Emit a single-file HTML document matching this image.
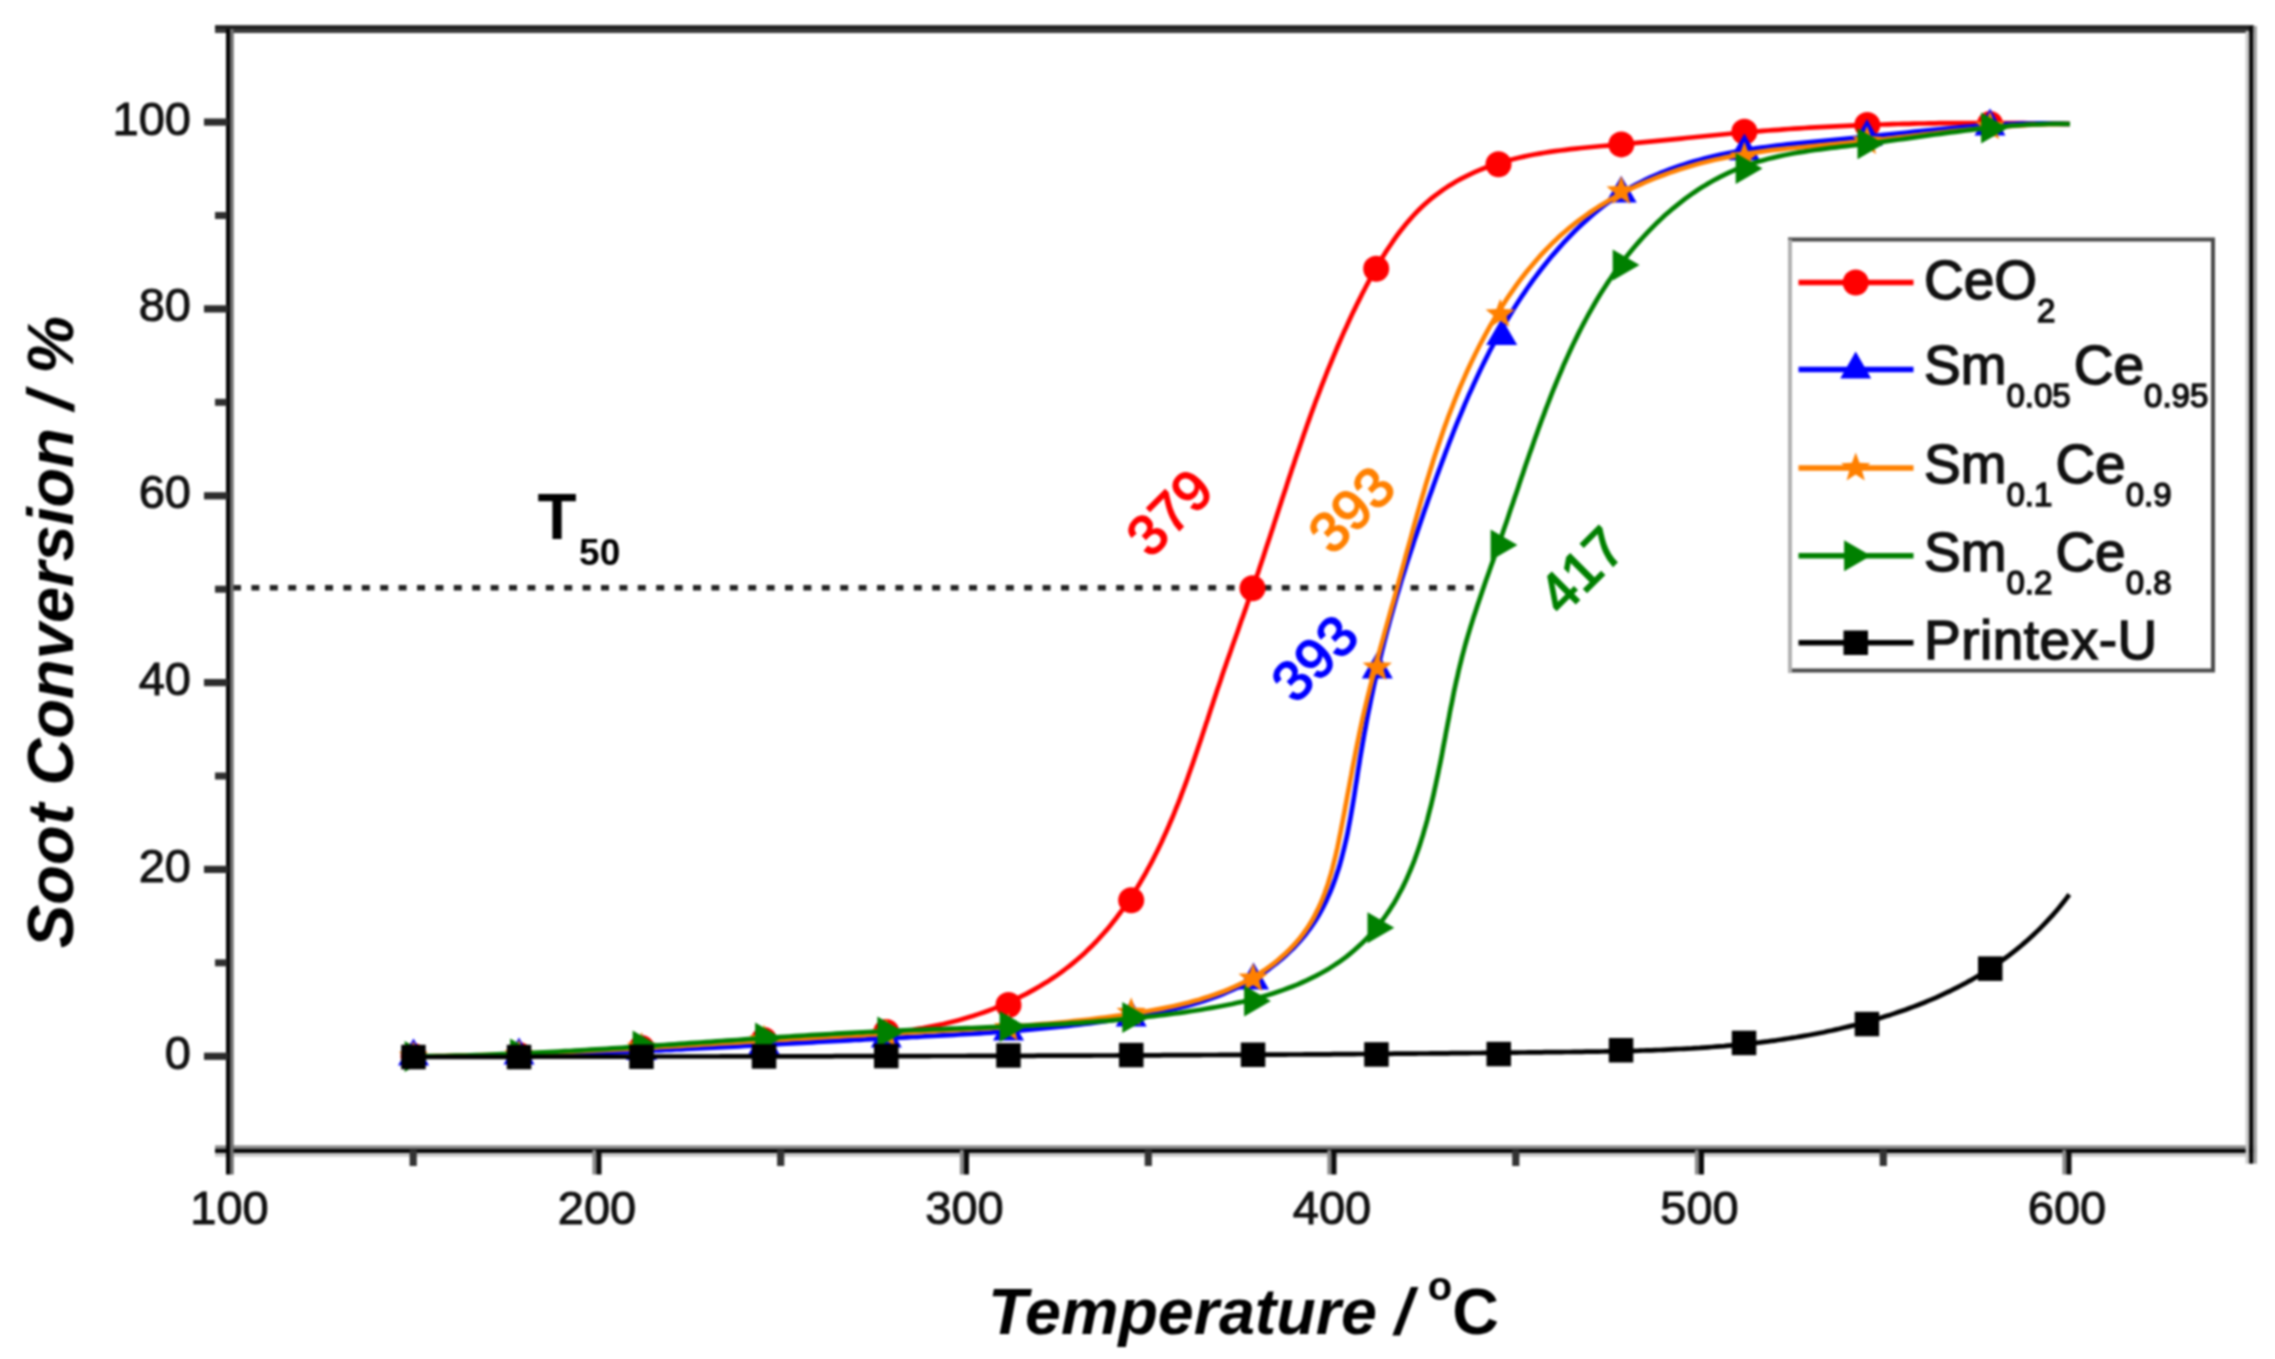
<!DOCTYPE html>
<html lang="en"><head><meta charset="utf-8"><title>Soot Conversion vs Temperature</title>
<style>html,body{margin:0;padding:0;background:#fff}body{width:2275px;height:1359px;overflow:hidden}svg{display:block}</style>
</head><body>
<svg width="2275" height="1359" viewBox="0 0 2275 1359">
<rect width="2275" height="1359" fill="#fff"/>
<defs><filter id="soft" x="0" y="0" width="100%" height="100%" filterUnits="userSpaceOnUse" color-interpolation-filters="sRGB"><feGaussianBlur stdDeviation="0.9"/></filter></defs>
<g filter="url(#soft)">
<rect width="2275" height="1359" fill="#fff"/>
<line x1="233" y1="587.8" x2="1479" y2="587.8" stroke="#222" stroke-width="5.5" stroke-dasharray="8 10.4"/>
<path d="M413.5,1056.0 L418.8,1056.2 L424.0,1056.3 L429.3,1056.5 L434.5,1056.6 L439.7,1056.6 L445.0,1056.7 L450.2,1056.7 L455.4,1056.7 L460.7,1056.7 L465.9,1056.7 L471.1,1056.6 L476.3,1056.6 L481.5,1056.5 L486.7,1056.4 L491.9,1056.2 L497.1,1056.1 L502.3,1055.9 L507.5,1055.8 L512.7,1055.6 L517.9,1055.4 L523.1,1055.1 L528.3,1054.9 L533.4,1054.7 L538.6,1054.4 L543.8,1054.1 L549.0,1053.8 L554.2,1053.6 L559.3,1053.2 L564.5,1052.9 L569.7,1052.6 L574.8,1052.3 L580.0,1051.9 L585.2,1051.6 L590.4,1051.3 L595.5,1050.9 L600.7,1050.5 L605.9,1050.2 L611.0,1049.8 L616.2,1049.4 L621.4,1049.0 L626.5,1048.7 L631.7,1048.3 L636.9,1047.9 L642.0,1047.5 L647.2,1047.1 L652.4,1046.7 L657.6,1046.4 L662.7,1046.0 L667.9,1045.6 L673.1,1045.2 L678.3,1044.8 L683.5,1044.5 L688.7,1044.1 L693.8,1043.8 L699.0,1043.4 L704.2,1043.1 L709.4,1042.7 L714.6,1042.4 L719.8,1042.1 L725.0,1041.7 L730.2,1041.4 L735.4,1041.1 L740.6,1040.9 L745.9,1040.6 L751.1,1040.3 L756.3,1040.1 L761.5,1039.8 L766.8,1039.6 L772.0,1039.4 L777.2,1039.2 L782.5,1039.0 L787.7,1038.8 L793.0,1038.6 L798.2,1038.4 L803.5,1038.2 L808.7,1038.1 L814.0,1037.9 L819.2,1037.7 L824.4,1037.4 L829.7,1037.2 L834.9,1037.0 L840.2,1036.7 L845.4,1036.4 L850.6,1036.1 L855.9,1035.8 L861.1,1035.4 L866.3,1035.0 L871.5,1034.6 L876.7,1034.1 L881.9,1033.6 L887.1,1033.1 L892.3,1032.5 L897.4,1031.9 L902.6,1031.2 L907.7,1030.5 L912.9,1029.8 L918.0,1028.9 L923.1,1028.1 L928.2,1027.1 L933.3,1026.1 L938.4,1025.1 L943.5,1024.0 L948.5,1022.8 L953.6,1021.5 L958.6,1020.2 L963.6,1018.8 L968.6,1017.3 L973.6,1015.8 L978.5,1014.1 L983.4,1012.5 L988.3,1010.7 L993.2,1008.9 L998.0,1006.9 L1002.8,1005.0 L1007.6,1002.9 L1012.3,1000.8 L1017.0,998.5 L1021.7,996.2 L1026.3,993.9 L1030.8,991.4 L1035.3,988.9 L1039.8,986.3 L1044.2,983.6 L1048.6,980.9 L1052.9,978.0 L1057.2,975.1 L1061.4,972.1 L1065.5,969.0 L1069.6,965.9 L1073.6,962.6 L1077.6,959.3 L1081.4,955.9 L1085.3,952.4 L1089.0,948.8 L1092.7,945.2 L1096.3,941.5 L1099.8,937.7 L1103.3,933.8 L1106.7,929.9 L1110.0,925.9 L1113.3,921.8 L1116.5,917.7 L1119.6,913.5 L1122.7,909.3 L1125.7,905.1 L1128.6,900.8 L1131.5,896.4 L1134.3,892.1 L1137.1,887.7 L1139.8,883.2 L1142.4,878.8 L1145.0,874.3 L1147.5,869.7 L1150.0,865.2 L1152.4,860.6 L1154.7,856.0 L1157.1,851.3 L1159.3,846.7 L1161.6,842.0 L1163.7,837.3 L1165.9,832.5 L1168.0,827.8 L1170.0,823.0 L1172.1,818.2 L1174.1,813.4 L1176.0,808.5 L1178.0,803.7 L1179.9,798.8 L1181.7,793.9 L1183.6,789.0 L1185.4,784.1 L1187.2,779.2 L1188.9,774.3 L1190.7,769.3 L1192.4,764.4 L1194.1,759.4 L1195.8,754.5 L1197.5,749.5 L1199.2,744.5 L1200.9,739.6 L1202.5,734.6 L1204.2,729.6 L1205.8,724.6 L1207.5,719.7 L1209.1,714.7 L1210.7,709.7 L1212.4,704.7 L1214.0,699.8 L1215.7,694.8 L1217.3,689.8 L1219.0,684.9 L1220.7,679.9 L1222.3,675.0 L1224.0,670.1 L1225.7,665.2 L1227.4,660.3 L1229.2,655.4 L1230.9,650.5 L1232.6,645.6 L1234.3,640.7 L1236.1,635.8 L1237.8,630.9 L1239.5,626.0 L1241.2,621.1 L1243.0,616.2 L1244.7,611.4 L1246.4,606.5 L1248.1,601.6 L1249.8,596.7 L1251.5,591.8 L1253.2,586.9 L1254.8,582.0 L1256.5,577.1 L1258.2,572.2 L1259.8,567.3 L1261.4,562.4 L1263.1,557.4 L1264.7,552.5 L1266.3,547.6 L1267.9,542.7 L1269.6,537.7 L1271.2,532.8 L1272.8,527.9 L1274.4,522.9 L1276.0,518.0 L1277.6,513.1 L1279.2,508.1 L1280.8,503.2 L1282.4,498.2 L1284.1,493.3 L1285.7,488.4 L1287.3,483.4 L1288.9,478.5 L1290.6,473.5 L1292.2,468.6 L1293.9,463.7 L1295.5,458.8 L1297.2,453.8 L1298.9,448.9 L1300.6,444.0 L1302.3,439.1 L1304.0,434.1 L1305.7,429.2 L1307.4,424.3 L1309.2,419.4 L1310.9,414.5 L1312.7,409.6 L1314.5,404.7 L1316.3,399.8 L1318.2,395.0 L1320.0,390.1 L1321.9,385.2 L1323.8,380.4 L1325.7,375.5 L1327.6,370.7 L1329.6,365.8 L1331.6,361.0 L1333.6,356.2 L1335.6,351.3 L1337.6,346.5 L1339.7,341.7 L1341.8,336.9 L1343.9,332.1 L1346.1,327.4 L1348.3,322.6 L1350.5,317.8 L1352.7,313.1 L1355.0,308.4 L1357.3,303.6 L1359.7,298.9 L1362.0,294.2 L1364.5,289.5 L1366.9,284.8 L1369.4,280.2 L1371.9,275.5 L1374.5,270.9 L1377.1,266.4 L1379.7,261.8 L1382.5,257.3 L1385.2,252.9 L1388.1,248.5 L1391.0,244.2 L1393.9,239.9 L1396.9,235.7 L1400.0,231.5 L1403.2,227.5 L1406.4,223.5 L1409.8,219.6 L1413.2,215.8 L1416.6,212.1 L1420.2,208.5 L1423.9,205.1 L1427.6,201.7 L1431.5,198.4 L1435.4,195.3 L1439.5,192.3 L1443.6,189.4 L1447.8,186.6 L1452.1,183.9 L1456.5,181.3 L1460.9,178.9 L1465.4,176.6 L1470.0,174.3 L1474.7,172.2 L1479.4,170.2 L1484.1,168.3 L1489.0,166.5 L1493.8,164.8 L1498.7,163.2 L1503.7,161.7 L1508.7,160.3 L1513.7,159.0 L1518.8,157.7 L1523.8,156.6 L1529.0,155.5 L1534.1,154.5 L1539.3,153.6 L1544.5,152.7 L1549.7,151.9 L1554.9,151.2 L1560.2,150.5 L1565.5,149.8 L1570.7,149.2 L1576.0,148.6 L1581.3,148.0 L1586.6,147.5 L1591.9,147.0 L1597.2,146.5 L1602.5,146.0 L1607.8,145.6 L1613.1,145.1 L1618.4,144.6 L1623.6,144.1 L1628.9,143.7 L1634.1,143.2 L1639.3,142.7 L1644.5,142.2 L1649.7,141.7 L1654.9,141.2 L1660.1,140.6 L1665.3,140.1 L1670.5,139.6 L1675.6,139.1 L1680.8,138.6 L1685.9,138.0 L1691.1,137.5 L1696.2,137.0 L1701.4,136.5 L1706.5,136.0 L1711.6,135.5 L1716.8,135.0 L1721.9,134.5 L1727.0,134.0 L1732.2,133.5 L1737.3,133.1 L1742.5,132.6 L1747.6,132.2 L1752.8,131.7 L1757.9,131.3 L1763.1,130.9 L1768.2,130.5 L1773.4,130.1 L1778.6,129.8 L1783.7,129.4 L1788.9,129.0 L1794.1,128.7 L1799.3,128.4 L1804.5,128.0 L1809.7,127.7 L1814.8,127.4 L1820.0,127.1 L1825.2,126.9 L1830.4,126.6 L1835.6,126.3 L1840.8,126.1 L1846.0,125.9 L1851.2,125.6 L1856.4,125.4 L1861.7,125.2 L1866.9,125.0 L1872.1,124.8 L1877.3,124.6 L1882.5,124.5 L1887.7,124.3 L1892.9,124.2 L1898.2,124.0 L1903.4,123.9 L1908.6,123.8 L1913.8,123.7 L1919.0,123.5 L1924.2,123.5 L1929.5,123.4 L1934.7,123.3 L1939.9,123.2 L1945.1,123.2 L1950.3,123.1 L1955.6,123.1 L1960.8,123.0 L1966.0,123.0 L1971.2,123.0 L1976.4,123.0 L1981.6,123.0 L1986.8,123.0 L1992.1,123.0 L1997.3,123.0 L2002.5,123.0 L2007.7,123.0 L2012.9,123.1 L2018.1,123.1 L2023.3,123.2 L2028.5,123.3 L2033.7,123.3 L2038.9,123.4 L2044.1,123.5 L2049.3,123.6 L2054.5,123.7 L2059.6,123.8 L2064.8,123.9 L2070.0,124.0" fill="none" stroke="#ff0000" stroke-width="4.7" stroke-linejoin="round"/>
<circle cx="413.5" cy="1056.0" r="13" fill="#ff0000"/>
<circle cx="519.0" cy="1055.0" r="13" fill="#ff0000"/>
<circle cx="641.5" cy="1048.0" r="13" fill="#ff0000"/>
<circle cx="764.0" cy="1040.0" r="13" fill="#ff0000"/>
<circle cx="886.3" cy="1032.0" r="13" fill="#ff0000"/>
<circle cx="1008.5" cy="1005.0" r="13" fill="#ff0000"/>
<circle cx="1131.2" cy="900.3" r="13" fill="#ff0000"/>
<circle cx="1252.5" cy="588.3" r="13" fill="#ff0000"/>
<circle cx="1376.2" cy="268.7" r="13" fill="#ff0000"/>
<circle cx="1498.5" cy="164.2" r="13" fill="#ff0000"/>
<circle cx="1621.3" cy="144.4" r="13" fill="#ff0000"/>
<circle cx="1744.4" cy="131.8" r="13" fill="#ff0000"/>
<circle cx="1867.3" cy="125.0" r="13" fill="#ff0000"/>
<circle cx="1990.0" cy="124.0" r="13" fill="#ff0000"/>
<path d="M413.5,1056.5 L418.7,1056.5 L424.0,1056.5 L429.2,1056.5 L434.4,1056.5 L439.7,1056.5 L444.9,1056.5 L450.1,1056.5 L455.4,1056.4 L460.6,1056.4 L465.8,1056.3 L471.1,1056.3 L476.3,1056.2 L481.6,1056.2 L486.8,1056.1 L492.1,1056.0 L497.3,1055.9 L502.5,1055.8 L507.8,1055.7 L513.0,1055.6 L518.3,1055.5 L523.5,1055.3 L528.8,1055.2 L534.0,1055.1 L539.3,1054.9 L544.5,1054.8 L549.8,1054.6 L555.1,1054.5 L560.3,1054.3 L565.6,1054.1 L570.8,1053.9 L576.1,1053.8 L581.3,1053.6 L586.6,1053.4 L591.8,1053.2 L597.1,1053.0 L602.4,1052.8 L607.6,1052.6 L612.9,1052.4 L618.1,1052.1 L623.4,1051.9 L628.7,1051.7 L633.9,1051.5 L639.2,1051.2 L644.4,1051.0 L649.7,1050.8 L655.0,1050.5 L660.2,1050.3 L665.5,1050.0 L670.7,1049.8 L676.0,1049.5 L681.2,1049.3 L686.5,1049.0 L691.8,1048.7 L697.0,1048.5 L702.3,1048.2 L707.5,1047.9 L712.8,1047.7 L718.0,1047.4 L723.3,1047.1 L728.6,1046.8 L733.8,1046.6 L739.1,1046.3 L744.3,1046.0 L749.6,1045.7 L754.8,1045.4 L760.1,1045.2 L765.3,1044.9 L770.6,1044.6 L775.8,1044.3 L781.1,1044.0 L786.3,1043.7 L791.6,1043.4 L796.8,1043.2 L802.1,1042.9 L807.3,1042.6 L812.6,1042.3 L817.8,1042.0 L823.0,1041.7 L828.3,1041.4 L833.5,1041.2 L838.8,1040.9 L844.0,1040.6 L849.2,1040.3 L854.5,1040.0 L859.7,1039.8 L864.9,1039.5 L870.2,1039.2 L875.4,1038.9 L880.6,1038.7 L885.8,1038.4 L891.1,1038.1 L896.3,1037.8 L901.5,1037.6 L906.7,1037.3 L911.9,1037.0 L917.2,1036.8 L922.4,1036.5 L927.6,1036.2 L932.8,1036.0 L938.0,1035.7 L943.2,1035.4 L948.5,1035.1 L953.7,1034.8 L958.9,1034.5 L964.1,1034.2 L969.3,1033.9 L974.5,1033.6 L979.7,1033.3 L984.9,1032.9 L990.1,1032.6 L995.4,1032.2 L1000.6,1031.9 L1005.8,1031.5 L1011.0,1031.1 L1016.2,1030.7 L1021.4,1030.3 L1026.6,1029.8 L1031.9,1029.4 L1037.1,1028.9 L1042.3,1028.4 L1047.5,1027.9 L1052.7,1027.4 L1057.9,1026.9 L1063.2,1026.4 L1068.4,1025.8 L1073.6,1025.2 L1078.8,1024.6 L1084.1,1024.0 L1089.3,1023.3 L1094.5,1022.7 L1099.8,1022.0 L1105.0,1021.2 L1110.2,1020.5 L1115.5,1019.7 L1120.7,1018.9 L1126.0,1018.1 L1131.2,1017.3 L1136.5,1016.4 L1141.7,1015.5 L1147.0,1014.6 L1152.2,1013.6 L1157.4,1012.6 L1162.6,1011.5 L1167.9,1010.4 L1173.0,1009.2 L1178.2,1008.0 L1183.4,1006.7 L1188.5,1005.4 L1193.6,1004.0 L1198.7,1002.5 L1203.7,1000.9 L1208.7,999.2 L1213.7,997.5 L1218.6,995.7 L1223.5,993.7 L1228.3,991.7 L1233.1,989.6 L1237.9,987.4 L1242.5,985.1 L1247.2,982.6 L1251.8,980.1 L1256.3,977.4 L1260.7,974.6 L1265.1,971.7 L1269.4,968.7 L1273.6,965.5 L1277.7,962.3 L1281.8,958.9 L1285.7,955.5 L1289.5,951.9 L1293.3,948.3 L1296.9,944.5 L1300.3,940.7 L1303.7,936.7 L1306.9,932.7 L1310.0,928.6 L1312.9,924.4 L1315.7,920.1 L1318.4,915.8 L1320.9,911.3 L1323.3,906.8 L1325.6,902.3 L1327.7,897.6 L1329.8,893.0 L1331.8,888.2 L1333.6,883.4 L1335.4,878.5 L1337.0,873.6 L1338.6,868.7 L1340.1,863.7 L1341.5,858.6 L1342.8,853.5 L1344.1,848.4 L1345.3,843.3 L1346.5,838.1 L1347.6,832.9 L1348.6,827.6 L1349.6,822.4 L1350.6,817.1 L1351.5,811.8 L1352.4,806.6 L1353.3,801.3 L1354.2,795.9 L1355.0,790.6 L1355.8,785.3 L1356.7,780.0 L1357.5,774.7 L1358.3,769.4 L1359.2,764.2 L1360.0,758.9 L1360.9,753.7 L1361.8,748.4 L1362.7,743.2 L1363.6,738.0 L1364.5,732.9 L1365.5,727.7 L1366.4,722.5 L1367.4,717.4 L1368.4,712.3 L1369.5,707.2 L1370.5,702.1 L1371.5,697.0 L1372.6,691.9 L1373.7,686.8 L1374.8,681.7 L1376.0,676.7 L1377.1,671.6 L1378.3,666.6 L1379.5,661.5 L1380.7,656.5 L1381.9,651.4 L1383.2,646.4 L1384.4,641.4 L1385.7,636.4 L1387.0,631.3 L1388.4,626.3 L1389.7,621.3 L1391.1,616.3 L1392.5,611.3 L1393.9,606.3 L1395.4,601.2 L1396.8,596.2 L1398.3,591.2 L1399.8,586.2 L1401.3,581.1 L1402.9,576.1 L1404.5,571.1 L1406.0,566.0 L1407.6,561.0 L1409.3,556.0 L1410.9,551.0 L1412.6,545.9 L1414.2,540.9 L1415.9,535.9 L1417.6,530.9 L1419.3,525.9 L1421.0,520.9 L1422.7,515.9 L1424.4,510.9 L1426.2,506.0 L1427.9,501.0 L1429.7,496.0 L1431.5,491.1 L1433.2,486.2 L1435.0,481.2 L1436.8,476.3 L1438.6,471.4 L1440.4,466.5 L1442.2,461.6 L1444.0,456.8 L1445.8,451.9 L1447.7,447.0 L1449.5,442.2 L1451.4,437.4 L1453.3,432.5 L1455.2,427.7 L1457.1,422.9 L1459.1,418.1 L1461.1,413.3 L1463.1,408.5 L1465.1,403.7 L1467.2,398.9 L1469.2,394.2 L1471.4,389.4 L1473.5,384.7 L1475.7,379.9 L1477.9,375.2 L1480.1,370.5 L1482.4,365.8 L1484.7,361.1 L1487.1,356.4 L1489.4,351.7 L1491.9,347.1 L1494.3,342.4 L1496.8,337.8 L1499.4,333.2 L1502.0,328.6 L1504.6,324.1 L1507.3,319.5 L1510.0,315.0 L1512.7,310.5 L1515.5,306.1 L1518.4,301.6 L1521.2,297.2 L1524.2,292.9 L1527.1,288.5 L1530.2,284.2 L1533.2,279.9 L1536.4,275.7 L1539.5,271.5 L1542.8,267.3 L1546.0,263.2 L1549.4,259.1 L1552.7,255.1 L1556.2,251.1 L1559.7,247.1 L1563.2,243.2 L1566.8,239.4 L1570.4,235.6 L1574.1,231.8 L1577.9,228.1 L1581.7,224.5 L1585.6,220.9 L1589.5,217.4 L1593.5,213.9 L1597.5,210.6 L1601.6,207.3 L1605.8,204.1 L1610.0,201.0 L1614.3,198.0 L1618.6,195.1 L1623.0,192.3 L1627.4,189.5 L1631.9,186.9 L1636.4,184.4 L1641.0,182.0 L1645.6,179.7 L1650.3,177.5 L1655.1,175.4 L1659.8,173.3 L1664.6,171.4 L1669.5,169.5 L1674.4,167.7 L1679.3,166.0 L1684.2,164.4 L1689.2,162.8 L1694.2,161.3 L1699.3,159.9 L1704.3,158.6 L1709.4,157.3 L1714.5,156.1 L1719.7,154.9 L1724.8,153.9 L1729.9,152.8 L1735.1,151.8 L1740.3,150.9 L1745.5,150.0 L1750.7,149.2 L1755.9,148.4 L1761.1,147.7 L1766.3,147.0 L1771.5,146.3 L1776.8,145.6 L1782.0,145.0 L1787.3,144.4 L1792.5,143.9 L1797.8,143.3 L1803.0,142.8 L1808.3,142.3 L1813.5,141.8 L1818.8,141.3 L1824.0,140.8 L1829.3,140.4 L1834.5,139.9 L1839.8,139.4 L1845.0,138.9 L1850.3,138.4 L1855.5,137.9 L1860.8,137.4 L1866.0,136.9 L1871.2,136.3 L1876.4,135.8 L1881.7,135.2 L1886.9,134.7 L1892.1,134.1 L1897.3,133.6 L1902.5,133.0 L1907.7,132.5 L1912.9,131.9 L1918.1,131.4 L1923.4,130.8 L1928.6,130.3 L1933.8,129.8 L1939.0,129.3 L1944.2,128.8 L1949.4,128.3 L1954.6,127.8 L1959.8,127.4 L1965.0,126.9 L1970.2,126.5 L1975.4,126.1 L1980.6,125.7 L1985.9,125.4 L1991.1,125.0 L1996.3,124.7 L2001.5,124.5 L2006.8,124.2 L2012.0,124.0 L2017.2,123.8 L2022.5,123.7 L2027.7,123.5 L2033.0,123.5 L2038.3,123.4 L2043.5,123.4 L2048.8,123.4 L2054.1,123.5 L2059.4,123.6 L2064.7,123.8 L2070.0,124.0" fill="none" stroke="#0000ff" stroke-width="4.7" stroke-linejoin="round"/>
<polygon points="413.5,1038.6 398.0,1065.4 429.0,1065.4" fill="#0000ff"/>
<polygon points="519.0,1037.6 503.5,1064.4 534.5,1064.4" fill="#0000ff"/>
<polygon points="641.5,1033.1 626.0,1059.9 657.0,1059.9" fill="#0000ff"/>
<polygon points="764.0,1027.1 748.5,1053.9 779.5,1053.9" fill="#0000ff"/>
<polygon points="886.3,1020.6 870.8,1047.4 901.8,1047.4" fill="#0000ff"/>
<polygon points="1008.5,1013.6 993.0,1040.4 1024.0,1040.4" fill="#0000ff"/>
<polygon points="1131.2,999.6 1115.7,1026.4 1146.7,1026.4" fill="#0000ff"/>
<polygon points="1253.5,962.6 1238.0,989.4 1269.0,989.4" fill="#0000ff"/>
<polygon points="1377.3,651.6 1361.8,678.4 1392.8,678.4" fill="#0000ff"/>
<polygon points="1501.7,318.3 1486.2,345.1 1517.2,345.1" fill="#0000ff"/>
<polygon points="1621.2,175.7 1605.7,202.5 1636.7,202.5" fill="#0000ff"/>
<polygon points="1744.4,133.5 1728.9,160.3 1759.9,160.3" fill="#0000ff"/>
<polygon points="1867.0,119.1 1851.5,145.9 1882.5,145.9" fill="#0000ff"/>
<polygon points="1990.0,108.6 1974.5,135.4 2005.5,135.4" fill="#0000ff"/>
<path d="M413.5,1056.5 L418.7,1056.4 L423.9,1056.4 L429.2,1056.3 L434.4,1056.2 L439.6,1056.1 L444.8,1056.1 L450.0,1055.9 L455.3,1055.8 L460.5,1055.7 L465.7,1055.6 L471.0,1055.5 L476.2,1055.3 L481.4,1055.2 L486.7,1055.0 L491.9,1054.9 L497.2,1054.7 L502.4,1054.5 L507.7,1054.3 L512.9,1054.2 L518.1,1054.0 L523.4,1053.8 L528.6,1053.6 L533.9,1053.4 L539.1,1053.1 L544.4,1052.9 L549.6,1052.7 L554.9,1052.5 L560.2,1052.2 L565.4,1052.0 L570.7,1051.7 L575.9,1051.5 L581.2,1051.2 L586.4,1051.0 L591.7,1050.7 L597.0,1050.5 L602.2,1050.2 L607.5,1049.9 L612.7,1049.6 L618.0,1049.4 L623.3,1049.1 L628.5,1048.8 L633.8,1048.5 L639.1,1048.2 L644.3,1047.9 L649.6,1047.6 L654.9,1047.3 L660.1,1047.0 L665.4,1046.7 L670.6,1046.4 L675.9,1046.1 L681.2,1045.8 L686.4,1045.4 L691.7,1045.1 L696.9,1044.8 L702.2,1044.5 L707.5,1044.2 L712.7,1043.9 L718.0,1043.5 L723.2,1043.2 L728.5,1042.9 L733.8,1042.6 L739.0,1042.3 L744.3,1041.9 L749.5,1041.6 L754.8,1041.3 L760.0,1041.0 L765.3,1040.6 L770.5,1040.3 L775.8,1040.0 L781.0,1039.7 L786.3,1039.4 L791.5,1039.0 L796.8,1038.7 L802.0,1038.4 L807.3,1038.1 L812.5,1037.8 L817.8,1037.5 L823.0,1037.2 L828.2,1036.9 L833.5,1036.6 L838.7,1036.3 L843.9,1036.0 L849.2,1035.7 L854.4,1035.4 L859.6,1035.1 L864.8,1034.8 L870.1,1034.5 L875.3,1034.2 L880.5,1033.9 L885.7,1033.7 L890.9,1033.4 L896.2,1033.1 L901.4,1032.8 L906.6,1032.6 L911.8,1032.3 L917.0,1032.1 L922.2,1031.8 L927.4,1031.5 L932.6,1031.3 L937.8,1031.0 L943.0,1030.7 L948.2,1030.5 L953.4,1030.2 L958.6,1029.9 L963.8,1029.6 L969.0,1029.3 L974.2,1029.0 L979.4,1028.7 L984.6,1028.4 L989.8,1028.1 L995.0,1027.7 L1000.2,1027.4 L1005.4,1027.0 L1010.6,1026.7 L1015.9,1026.3 L1021.1,1025.9 L1026.3,1025.5 L1031.5,1025.1 L1036.7,1024.7 L1041.9,1024.2 L1047.1,1023.8 L1052.4,1023.3 L1057.6,1022.8 L1062.8,1022.3 L1068.1,1021.8 L1073.3,1021.2 L1078.5,1020.7 L1083.8,1020.1 L1089.0,1019.5 L1094.3,1018.9 L1099.5,1018.2 L1104.8,1017.5 L1110.1,1016.8 L1115.3,1016.1 L1120.6,1015.4 L1125.9,1014.6 L1131.2,1013.8 L1136.4,1013.0 L1141.7,1012.2 L1147.0,1011.3 L1152.3,1010.3 L1157.6,1009.4 L1162.8,1008.4 L1168.1,1007.3 L1173.3,1006.2 L1178.5,1005.0 L1183.7,1003.8 L1188.9,1002.5 L1194.0,1001.1 L1199.2,999.7 L1204.2,998.1 L1209.3,996.5 L1214.3,994.8 L1219.2,993.0 L1224.1,991.2 L1229.0,989.2 L1233.7,987.1 L1238.5,984.9 L1243.2,982.6 L1247.8,980.2 L1252.3,977.7 L1256.8,975.0 L1261.2,972.3 L1265.6,969.4 L1269.8,966.4 L1273.9,963.3 L1278.0,960.0 L1281.9,956.6 L1285.7,953.2 L1289.4,949.6 L1293.0,945.9 L1296.5,942.1 L1299.8,938.2 L1302.9,934.1 L1305.9,930.0 L1308.7,925.8 L1311.4,921.4 L1314.0,917.0 L1316.3,912.4 L1318.6,907.8 L1320.7,903.1 L1322.7,898.4 L1324.6,893.5 L1326.3,888.6 L1328.0,883.7 L1329.5,878.6 L1331.0,873.6 L1332.4,868.5 L1333.7,863.3 L1335.0,858.2 L1336.2,853.0 L1337.4,847.8 L1338.5,842.5 L1339.5,837.3 L1340.6,832.1 L1341.6,826.8 L1342.6,821.6 L1343.6,816.4 L1344.6,811.2 L1345.5,806.0 L1346.5,800.8 L1347.4,795.6 L1348.4,790.5 L1349.4,785.3 L1350.3,780.1 L1351.3,775.0 L1352.2,769.8 L1353.2,764.7 L1354.2,759.6 L1355.2,754.4 L1356.2,749.3 L1357.2,744.2 L1358.3,739.1 L1359.3,733.9 L1360.4,728.8 L1361.5,723.7 L1362.6,718.6 L1363.8,713.5 L1365.0,708.4 L1366.2,703.3 L1367.4,698.2 L1368.7,693.2 L1369.9,688.1 L1371.2,683.0 L1372.5,677.9 L1373.8,672.8 L1375.2,667.7 L1376.5,662.7 L1377.9,657.6 L1379.2,652.5 L1380.6,647.4 L1382.0,642.4 L1383.4,637.3 L1384.8,632.2 L1386.2,627.2 L1387.6,622.1 L1389.0,617.0 L1390.4,612.0 L1391.8,606.9 L1393.3,601.8 L1394.7,596.8 L1396.1,591.7 L1397.5,586.6 L1398.8,581.6 L1400.2,576.5 L1401.6,571.4 L1403.0,566.4 L1404.4,561.3 L1405.7,556.2 L1407.1,551.2 L1408.5,546.1 L1409.9,541.1 L1411.3,536.0 L1412.6,531.0 L1414.0,525.9 L1415.4,520.9 L1416.8,515.8 L1418.3,510.8 L1419.7,505.8 L1421.1,500.7 L1422.6,495.7 L1424.1,490.7 L1425.5,485.7 L1427.0,480.7 L1428.6,475.7 L1430.1,470.7 L1431.7,465.7 L1433.2,460.7 L1434.8,455.8 L1436.5,450.8 L1438.1,445.9 L1439.8,440.9 L1441.5,436.0 L1443.2,431.1 L1444.9,426.1 L1446.7,421.2 L1448.5,416.3 L1450.4,411.4 L1452.3,406.6 L1454.2,401.7 L1456.1,396.9 L1458.1,392.0 L1460.1,387.2 L1462.2,382.4 L1464.3,377.6 L1466.4,372.8 L1468.6,368.0 L1470.8,363.2 L1473.1,358.5 L1475.4,353.7 L1477.8,349.0 L1480.2,344.3 L1482.7,339.6 L1485.2,334.9 L1487.7,330.3 L1490.3,325.7 L1493.0,321.1 L1495.7,316.5 L1498.5,311.9 L1501.3,307.4 L1504.2,302.9 L1507.1,298.5 L1510.1,294.1 L1513.1,289.8 L1516.2,285.4 L1519.3,281.2 L1522.5,277.0 L1525.8,272.8 L1529.1,268.7 L1532.5,264.7 L1535.9,260.7 L1539.4,256.7 L1542.9,252.9 L1546.5,249.1 L1550.2,245.4 L1553.9,241.7 L1557.7,238.1 L1561.6,234.6 L1565.5,231.2 L1569.4,227.9 L1573.5,224.6 L1577.6,221.4 L1581.7,218.3 L1585.9,215.3 L1590.2,212.3 L1594.5,209.4 L1598.8,206.6 L1603.2,203.9 L1607.7,201.2 L1612.2,198.6 L1616.7,196.1 L1621.3,193.6 L1625.9,191.2 L1630.6,188.9 L1635.3,186.7 L1640.1,184.5 L1644.8,182.4 L1649.7,180.4 L1654.5,178.4 L1659.4,176.5 L1664.3,174.7 L1669.2,172.9 L1674.2,171.2 L1679.2,169.5 L1684.2,168.0 L1689.2,166.5 L1694.3,165.0 L1699.4,163.6 L1704.5,162.3 L1709.6,161.0 L1714.7,159.8 L1719.9,158.7 L1725.0,157.6 L1730.2,156.6 L1735.4,155.6 L1740.6,154.7 L1745.8,153.8 L1751.0,153.0 L1756.2,152.3 L1761.4,151.6 L1766.6,150.9 L1771.9,150.2 L1777.1,149.6 L1782.3,149.1 L1787.6,148.5 L1792.8,148.0 L1798.1,147.5 L1803.3,147.0 L1808.6,146.5 L1813.8,146.0 L1819.1,145.6 L1824.3,145.1 L1829.6,144.6 L1834.8,144.2 L1840.1,143.7 L1845.3,143.2 L1850.5,142.7 L1855.8,142.2 L1861.0,141.7 L1866.2,141.2 L1871.4,140.6 L1876.7,140.0 L1881.9,139.5 L1887.1,138.9 L1892.3,138.3 L1897.5,137.7 L1902.7,137.1 L1907.9,136.5 L1913.1,135.9 L1918.3,135.3 L1923.5,134.7 L1928.7,134.1 L1933.9,133.5 L1939.1,132.9 L1944.3,132.3 L1949.5,131.7 L1954.7,131.1 L1959.9,130.6 L1965.1,130.0 L1970.3,129.5 L1975.5,129.0 L1980.8,128.5 L1986.0,128.0 L1991.2,127.5 L1996.4,127.1 L2001.6,126.7 L2006.9,126.3 L2012.1,125.9 L2017.3,125.6 L2022.6,125.3 L2027.8,125.0 L2033.1,124.7 L2038.3,124.5 L2043.6,124.3 L2048.9,124.2 L2054.1,124.1 L2059.4,124.0 L2064.7,124.0 L2070.0,124.0" fill="none" stroke="#ff8000" stroke-width="4.7" stroke-linejoin="round"/>
<polygon points="413.5,1041.0 417.3,1051.2 428.2,1051.7 419.7,1058.5 422.6,1069.0 413.5,1063.0 404.4,1069.0 407.3,1058.5 398.8,1051.7 409.7,1051.2" fill="#ff8000"/>
<polygon points="519.0,1039.5 522.8,1049.7 533.7,1050.2 525.2,1057.0 528.1,1067.5 519.0,1061.5 509.9,1067.5 512.8,1057.0 504.3,1050.2 515.2,1049.7" fill="#ff8000"/>
<polygon points="641.5,1032.0 645.3,1042.2 656.2,1042.7 647.7,1049.5 650.6,1060.0 641.5,1054.0 632.4,1060.0 635.3,1049.5 626.8,1042.7 637.7,1042.2" fill="#ff8000"/>
<polygon points="764.0,1024.5 767.8,1034.7 778.7,1035.2 770.2,1042.0 773.1,1052.5 764.0,1046.5 754.9,1052.5 757.8,1042.0 749.3,1035.2 760.2,1034.7" fill="#ff8000"/>
<polygon points="886.3,1018.5 890.1,1028.7 901.0,1029.2 892.5,1036.0 895.4,1046.5 886.3,1040.5 877.2,1046.5 880.1,1036.0 871.6,1029.2 882.5,1028.7" fill="#ff8000"/>
<polygon points="1008.5,1012.5 1012.3,1022.7 1023.2,1023.2 1014.7,1030.0 1017.6,1040.5 1008.5,1034.5 999.4,1040.5 1002.3,1030.0 993.8,1023.2 1004.7,1022.7" fill="#ff8000"/>
<polygon points="1131.2,997.3 1135.0,1007.5 1145.9,1008.0 1137.4,1014.8 1140.3,1025.3 1131.2,1019.3 1122.1,1025.3 1125.0,1014.8 1116.5,1008.0 1127.4,1007.5" fill="#ff8000"/>
<polygon points="1253.1,963.1 1256.9,973.3 1267.8,973.8 1259.3,980.6 1262.2,991.1 1253.1,985.1 1244.0,991.1 1246.9,980.6 1238.4,973.8 1249.3,973.3" fill="#ff8000"/>
<polygon points="1377.3,652.0 1381.1,662.2 1392.0,662.7 1383.5,669.5 1386.4,680.0 1377.3,674.0 1368.2,680.0 1371.1,669.5 1362.6,662.7 1373.5,662.2" fill="#ff8000"/>
<polygon points="1500.2,298.7 1504.0,308.9 1514.9,309.4 1506.4,316.2 1509.3,326.7 1500.2,320.7 1491.1,326.7 1494.0,316.2 1485.5,309.4 1496.4,308.9" fill="#ff8000"/>
<polygon points="1621.2,175.9 1625.0,186.1 1635.9,186.6 1627.4,193.4 1630.3,203.9 1621.2,197.9 1612.1,203.9 1615.0,193.4 1606.5,186.6 1617.4,186.1" fill="#ff8000"/>
<polygon points="1744.4,141.7 1748.2,151.9 1759.1,152.4 1750.6,159.2 1753.5,169.7 1744.4,163.7 1735.3,169.7 1738.2,159.2 1729.7,152.4 1740.6,151.9" fill="#ff8000"/>
<polygon points="1867.0,126.0 1870.8,136.2 1881.7,136.7 1873.2,143.5 1876.1,154.0 1867.0,148.0 1857.9,154.0 1860.8,143.5 1852.3,136.7 1863.2,136.2" fill="#ff8000"/>
<polygon points="1990.0,111.3 1993.8,121.5 2004.7,122.0 1996.2,128.8 1999.1,139.3 1990.0,133.3 1980.9,139.3 1983.8,128.8 1975.3,122.0 1986.2,121.5" fill="#ff8000"/>
<path d="M413.5,1056.4 L418.7,1056.4 L423.9,1056.3 L429.1,1056.2 L434.3,1056.2 L439.5,1056.1 L444.7,1056.0 L449.9,1055.9 L455.1,1055.7 L460.3,1055.6 L465.5,1055.5 L470.8,1055.3 L476.0,1055.2 L481.2,1055.0 L486.4,1054.8 L491.6,1054.6 L496.8,1054.4 L502.0,1054.2 L507.3,1054.0 L512.5,1053.8 L517.7,1053.6 L522.9,1053.4 L528.1,1053.1 L533.3,1052.9 L538.6,1052.6 L543.8,1052.4 L549.0,1052.1 L554.2,1051.8 L559.5,1051.5 L564.7,1051.2 L569.9,1051.0 L575.1,1050.7 L580.4,1050.4 L585.6,1050.0 L590.8,1049.7 L596.0,1049.4 L601.3,1049.1 L606.5,1048.8 L611.7,1048.4 L617.0,1048.1 L622.2,1047.8 L627.4,1047.4 L632.6,1047.1 L637.9,1046.8 L643.1,1046.4 L648.3,1046.1 L653.6,1045.7 L658.8,1045.4 L664.0,1045.0 L669.2,1044.6 L674.5,1044.3 L679.7,1043.9 L684.9,1043.6 L690.2,1043.2 L695.4,1042.8 L700.6,1042.5 L705.9,1042.1 L711.1,1041.8 L716.3,1041.4 L721.5,1041.0 L726.8,1040.7 L732.0,1040.3 L737.2,1040.0 L742.4,1039.6 L747.7,1039.2 L752.9,1038.9 L758.1,1038.5 L763.3,1038.2 L768.6,1037.8 L773.8,1037.5 L779.0,1037.2 L784.2,1036.8 L789.5,1036.5 L794.7,1036.2 L799.9,1035.8 L805.1,1035.5 L810.3,1035.2 L815.5,1034.9 L820.8,1034.6 L826.0,1034.3 L831.2,1034.0 L836.4,1033.7 L841.6,1033.4 L846.8,1033.1 L852.0,1032.8 L857.2,1032.5 L862.5,1032.3 L867.7,1032.0 L872.9,1031.8 L878.1,1031.5 L883.3,1031.3 L888.5,1031.1 L893.7,1030.8 L898.9,1030.6 L904.1,1030.4 L909.3,1030.2 L914.5,1030.0 L919.7,1029.8 L924.9,1029.6 L930.1,1029.4 L935.2,1029.2 L940.4,1029.1 L945.6,1028.9 L950.8,1028.7 L956.0,1028.5 L961.2,1028.3 L966.4,1028.1 L971.6,1028.0 L976.8,1027.8 L982.0,1027.6 L987.2,1027.4 L992.4,1027.2 L997.5,1027.0 L1002.7,1026.8 L1007.9,1026.6 L1013.1,1026.4 L1018.3,1026.1 L1023.5,1025.9 L1028.7,1025.7 L1033.9,1025.4 L1039.1,1025.2 L1044.3,1024.9 L1049.5,1024.6 L1054.7,1024.4 L1059.9,1024.1 L1065.1,1023.8 L1070.3,1023.4 L1075.5,1023.1 L1080.7,1022.8 L1085.9,1022.4 L1091.1,1022.0 L1096.3,1021.6 L1101.5,1021.2 L1106.7,1020.8 L1111.9,1020.4 L1117.1,1019.9 L1122.3,1019.4 L1127.6,1018.9 L1132.8,1018.4 L1138.0,1017.9 L1143.2,1017.3 L1148.4,1016.7 L1153.7,1016.1 L1158.9,1015.5 L1164.1,1014.9 L1169.4,1014.2 L1174.6,1013.5 L1179.8,1012.8 L1185.1,1012.1 L1190.3,1011.3 L1195.6,1010.5 L1200.8,1009.7 L1206.1,1008.8 L1211.3,1007.9 L1216.5,1007.0 L1221.8,1006.0 L1227.0,1005.0 L1232.2,1004.0 L1237.3,1002.8 L1242.5,1001.7 L1247.6,1000.5 L1252.8,999.2 L1257.8,997.8 L1262.9,996.4 L1267.9,995.0 L1272.9,993.4 L1277.9,991.8 L1282.8,990.1 L1287.7,988.3 L1292.5,986.5 L1297.3,984.6 L1302.0,982.5 L1306.7,980.4 L1311.3,978.2 L1315.9,975.9 L1320.4,973.5 L1324.9,971.0 L1329.3,968.4 L1333.6,965.6 L1337.9,962.8 L1342.1,959.8 L1346.2,956.8 L1350.2,953.6 L1354.2,950.3 L1358.1,946.8 L1361.9,943.3 L1365.6,939.6 L1369.2,935.9 L1372.7,932.0 L1376.2,928.0 L1379.5,923.9 L1382.7,919.8 L1385.8,915.5 L1388.8,911.2 L1391.6,906.8 L1394.4,902.4 L1397.0,897.8 L1399.5,893.2 L1402.0,888.6 L1404.3,883.9 L1406.5,879.2 L1408.6,874.4 L1410.7,869.5 L1412.7,864.7 L1414.6,859.8 L1416.4,854.8 L1418.1,849.9 L1419.8,844.9 L1421.4,839.9 L1423.0,834.9 L1424.4,829.9 L1425.9,824.8 L1427.3,819.8 L1428.6,814.7 L1429.9,809.7 L1431.2,804.6 L1432.4,799.5 L1433.6,794.4 L1434.7,789.3 L1435.8,784.2 L1436.9,779.1 L1438.0,774.0 L1439.0,768.9 L1440.1,763.8 L1441.1,758.7 L1442.1,753.6 L1443.0,748.5 L1444.0,743.3 L1445.0,738.2 L1445.9,733.1 L1446.9,728.0 L1447.9,722.8 L1448.9,717.7 L1449.8,712.6 L1450.8,707.5 L1451.9,702.4 L1452.9,697.3 L1453.9,692.1 L1455.0,687.0 L1456.1,681.9 L1457.3,676.9 L1458.4,671.8 L1459.6,666.7 L1460.9,661.6 L1462.1,656.6 L1463.5,651.5 L1464.8,646.5 L1466.2,641.5 L1467.7,636.4 L1469.2,631.4 L1470.7,626.4 L1472.3,621.4 L1473.8,616.4 L1475.5,611.4 L1477.1,606.5 L1478.8,601.5 L1480.5,596.5 L1482.2,591.6 L1483.9,586.6 L1485.6,581.6 L1487.3,576.7 L1489.1,571.7 L1490.8,566.8 L1492.6,561.9 L1494.3,556.9 L1496.0,552.0 L1497.8,547.1 L1499.5,542.1 L1501.2,537.2 L1502.9,532.3 L1504.6,527.3 L1506.3,522.4 L1508.0,517.5 L1509.6,512.6 L1511.3,507.6 L1513.0,502.7 L1514.6,497.8 L1516.3,492.9 L1518.0,487.9 L1519.6,483.0 L1521.3,478.1 L1523.0,473.2 L1524.6,468.3 L1526.3,463.3 L1528.0,458.4 L1529.7,453.5 L1531.5,448.6 L1533.2,443.7 L1534.9,438.8 L1536.7,433.9 L1538.4,429.0 L1540.2,424.1 L1542.0,419.2 L1543.9,414.3 L1545.7,409.4 L1547.6,404.5 L1549.5,399.6 L1551.4,394.7 L1553.3,389.9 L1555.3,385.0 L1557.3,380.1 L1559.3,375.3 L1561.4,370.5 L1563.4,365.6 L1565.6,360.8 L1567.7,356.1 L1569.9,351.3 L1572.1,346.5 L1574.4,341.8 L1576.7,337.1 L1579.0,332.4 L1581.4,327.7 L1583.8,323.1 L1586.3,318.5 L1588.8,313.9 L1591.4,309.3 L1594.0,304.8 L1596.6,300.3 L1599.3,295.8 L1602.1,291.3 L1604.9,286.9 L1607.7,282.6 L1610.7,278.2 L1613.6,273.9 L1616.7,269.7 L1619.8,265.4 L1622.9,261.3 L1626.1,257.1 L1629.4,253.0 L1632.7,249.0 L1636.1,245.0 L1639.5,241.1 L1643.0,237.2 L1646.6,233.3 L1650.2,229.6 L1653.9,225.9 L1657.6,222.2 L1661.4,218.6 L1665.2,215.1 L1669.1,211.7 L1673.1,208.3 L1677.1,205.1 L1681.2,201.8 L1685.3,198.7 L1689.5,195.7 L1693.7,192.7 L1698.0,189.8 L1702.3,187.1 L1706.7,184.4 L1711.2,181.8 L1715.6,179.3 L1720.2,176.9 L1724.8,174.6 L1729.4,172.4 L1734.1,170.3 L1738.9,168.4 L1743.7,166.5 L1748.5,164.8 L1753.4,163.1 L1758.4,161.6 L1763.4,160.2 L1768.4,158.8 L1773.4,157.6 L1778.5,156.4 L1783.7,155.3 L1788.8,154.3 L1794.0,153.3 L1799.2,152.4 L1804.4,151.6 L1809.7,150.8 L1814.9,150.0 L1820.2,149.3 L1825.5,148.6 L1830.7,147.9 L1836.0,147.3 L1841.3,146.7 L1846.6,146.1 L1851.9,145.5 L1857.2,144.9 L1862.4,144.2 L1867.7,143.6 L1872.9,143.0 L1878.2,142.3 L1883.4,141.6 L1888.6,140.9 L1893.8,140.2 L1899.0,139.5 L1904.1,138.8 L1909.3,138.1 L1914.5,137.4 L1919.6,136.7 L1924.7,135.9 L1929.9,135.2 L1935.0,134.5 L1940.2,133.8 L1945.3,133.1 L1950.4,132.4 L1955.5,131.8 L1960.7,131.1 L1965.8,130.5 L1970.9,129.8 L1976.1,129.2 L1981.2,128.6 L1986.3,128.1 L1991.5,127.6 L1996.6,127.1 L2001.8,126.6 L2007.0,126.1 L2012.1,125.7 L2017.3,125.4 L2022.5,125.0 L2027.8,124.7 L2033.0,124.5 L2038.2,124.3 L2043.5,124.1 L2048.7,124.0 L2054.0,123.9 L2059.3,123.9 L2064.7,123.9 L2070.0,124.0" fill="none" stroke="#008000" stroke-width="4.7" stroke-linejoin="round"/>
<polygon points="431.4,1056.4 404.6,1040.9 404.6,1071.9" fill="#008000"/>
<polygon points="536.9,1054.0 510.1,1038.5 510.1,1069.5" fill="#008000"/>
<polygon points="659.4,1046.0 632.6,1030.5 632.6,1061.5" fill="#008000"/>
<polygon points="781.9,1038.0 755.1,1022.5 755.1,1053.5" fill="#008000"/>
<polygon points="904.2,1032.0 877.4,1016.5 877.4,1047.5" fill="#008000"/>
<polygon points="1026.4,1026.4 999.6,1010.9 999.6,1041.9" fill="#008000"/>
<polygon points="1149.1,1017.5 1122.3,1002.0 1122.3,1033.0" fill="#008000"/>
<polygon points="1270.9,1001.0 1244.1,985.5 1244.1,1016.5" fill="#008000"/>
<polygon points="1394.3,927.8 1367.5,912.3 1367.5,943.3" fill="#008000"/>
<polygon points="1517.4,545.0 1490.6,529.5 1490.6,560.5" fill="#008000"/>
<polygon points="1639.5,265.0 1612.7,249.5 1612.7,280.5" fill="#008000"/>
<polygon points="1762.5,168.5 1735.7,153.0 1735.7,184.0" fill="#008000"/>
<polygon points="1884.3,143.8 1857.5,128.3 1857.5,159.3" fill="#008000"/>
<polygon points="2007.9,127.9 1981.1,112.4 1981.1,143.4" fill="#008000"/>
<path d="M413.5,1057.0 L417.6,1057.0 L421.6,1057.0 L425.7,1057.0 L429.8,1057.0 L433.8,1057.0 L437.9,1056.9 L442.0,1056.9 L446.1,1056.9 L450.1,1056.9 L454.2,1056.9 L458.3,1056.9 L462.3,1056.9 L466.4,1056.9 L470.5,1056.9 L474.5,1056.9 L478.6,1056.9 L482.7,1056.8 L486.7,1056.8 L490.8,1056.8 L494.9,1056.8 L498.9,1056.8 L503.0,1056.8 L507.0,1056.8 L511.1,1056.8 L515.2,1056.8 L519.2,1056.8 L523.3,1056.8 L527.4,1056.8 L531.4,1056.8 L535.5,1056.7 L539.5,1056.7 L543.6,1056.7 L547.7,1056.7 L551.7,1056.7 L555.8,1056.7 L559.8,1056.7 L563.9,1056.7 L568.0,1056.7 L572.0,1056.7 L576.1,1056.7 L580.1,1056.7 L584.2,1056.7 L588.3,1056.7 L592.3,1056.6 L596.4,1056.6 L600.4,1056.6 L604.5,1056.6 L608.6,1056.6 L612.6,1056.6 L616.7,1056.6 L620.7,1056.6 L624.8,1056.6 L628.8,1056.6 L632.9,1056.6 L636.9,1056.6 L641.0,1056.6 L645.1,1056.6 L649.1,1056.6 L653.2,1056.6 L657.2,1056.5 L661.3,1056.5 L665.3,1056.5 L669.4,1056.5 L673.4,1056.5 L677.5,1056.5 L681.6,1056.5 L685.6,1056.5 L689.7,1056.5 L693.7,1056.5 L697.8,1056.5 L701.8,1056.5 L705.9,1056.5 L709.9,1056.5 L714.0,1056.5 L718.0,1056.5 L722.1,1056.4 L726.1,1056.4 L730.2,1056.4 L734.2,1056.4 L738.3,1056.4 L742.3,1056.4 L746.4,1056.4 L750.4,1056.4 L754.5,1056.4 L758.5,1056.4 L762.6,1056.4 L766.6,1056.4 L770.7,1056.4 L774.7,1056.4 L778.8,1056.4 L782.8,1056.3 L786.9,1056.3 L790.9,1056.3 L795.0,1056.3 L799.0,1056.3 L803.1,1056.3 L807.1,1056.3 L811.2,1056.3 L815.2,1056.3 L819.3,1056.3 L823.3,1056.3 L827.4,1056.3 L831.4,1056.3 L835.5,1056.2 L839.5,1056.2 L843.6,1056.2 L847.6,1056.2 L851.7,1056.2 L855.7,1056.2 L859.8,1056.2 L863.8,1056.2 L867.9,1056.2 L871.9,1056.2 L876.0,1056.2 L880.0,1056.2 L884.1,1056.2 L888.1,1056.1 L892.2,1056.1 L896.2,1056.1 L900.3,1056.1 L904.3,1056.1 L908.4,1056.1 L912.4,1056.1 L916.4,1056.1 L920.5,1056.1 L924.5,1056.1 L928.6,1056.1 L932.6,1056.0 L936.7,1056.0 L940.7,1056.0 L944.8,1056.0 L948.8,1056.0 L952.9,1056.0 L956.9,1056.0 L961.0,1056.0 L965.0,1056.0 L969.1,1055.9 L973.1,1055.9 L977.2,1055.9 L981.2,1055.9 L985.3,1055.9 L989.3,1055.9 L993.4,1055.9 L997.4,1055.9 L1001.4,1055.9 L1005.5,1055.8 L1009.5,1055.8 L1013.6,1055.8 L1017.6,1055.8 L1021.7,1055.8 L1025.7,1055.8 L1029.8,1055.8 L1033.8,1055.8 L1037.9,1055.7 L1041.9,1055.7 L1046.0,1055.7 L1050.0,1055.7 L1054.1,1055.7 L1058.1,1055.7 L1062.2,1055.7 L1066.2,1055.6 L1070.3,1055.6 L1074.3,1055.6 L1078.4,1055.6 L1082.4,1055.6 L1086.5,1055.6 L1090.5,1055.6 L1094.6,1055.5 L1098.6,1055.5 L1102.7,1055.5 L1106.7,1055.5 L1110.8,1055.5 L1114.8,1055.5 L1118.9,1055.4 L1122.9,1055.4 L1127.0,1055.4 L1131.0,1055.4 L1135.1,1055.4 L1139.1,1055.4 L1143.2,1055.3 L1147.2,1055.3 L1151.3,1055.3 L1155.3,1055.3 L1159.4,1055.3 L1163.4,1055.2 L1167.5,1055.2 L1171.5,1055.2 L1175.6,1055.2 L1179.6,1055.2 L1183.7,1055.1 L1187.7,1055.1 L1191.8,1055.1 L1195.8,1055.1 L1199.9,1055.1 L1203.9,1055.0 L1208.0,1055.0 L1212.0,1055.0 L1216.1,1055.0 L1220.1,1054.9 L1224.2,1054.9 L1228.3,1054.9 L1232.3,1054.9 L1236.4,1054.9 L1240.4,1054.8 L1244.5,1054.8 L1248.5,1054.8 L1252.6,1054.8 L1256.6,1054.7 L1260.7,1054.7 L1264.7,1054.7 L1268.8,1054.7 L1272.9,1054.6 L1276.9,1054.6 L1281.0,1054.6 L1285.0,1054.6 L1289.1,1054.5 L1293.1,1054.5 L1297.2,1054.5 L1301.3,1054.5 L1305.3,1054.4 L1309.4,1054.4 L1313.4,1054.4 L1317.5,1054.3 L1321.5,1054.3 L1325.6,1054.3 L1329.7,1054.3 L1333.7,1054.2 L1337.8,1054.2 L1341.8,1054.2 L1345.9,1054.1 L1350.0,1054.1 L1354.0,1054.1 L1358.1,1054.0 L1362.1,1054.0 L1366.2,1054.0 L1370.3,1053.9 L1374.3,1053.9 L1378.4,1053.9 L1382.4,1053.8 L1386.5,1053.8 L1390.6,1053.8 L1394.6,1053.7 L1398.7,1053.7 L1402.8,1053.7 L1406.8,1053.6 L1410.9,1053.6 L1415.0,1053.6 L1419.0,1053.5 L1423.1,1053.5 L1427.2,1053.5 L1431.2,1053.4 L1435.3,1053.4 L1439.3,1053.3 L1443.4,1053.3 L1447.5,1053.3 L1451.6,1053.2 L1455.6,1053.2 L1459.7,1053.2 L1463.8,1053.1 L1467.8,1053.1 L1471.9,1053.0 L1476.0,1053.0 L1480.0,1053.0 L1484.1,1052.9 L1488.2,1052.9 L1492.2,1052.8 L1496.3,1052.8 L1500.4,1052.7 L1504.5,1052.7 L1508.5,1052.7 L1512.6,1052.6 L1516.7,1052.6 L1520.7,1052.5 L1524.8,1052.5 L1528.9,1052.4 L1533.0,1052.4 L1537.0,1052.3 L1541.1,1052.3 L1545.2,1052.2 L1549.3,1052.2 L1553.3,1052.2 L1557.4,1052.1 L1561.5,1052.1 L1565.6,1052.0 L1569.7,1052.0 L1573.7,1051.9 L1577.8,1051.9 L1581.9,1051.8 L1586.0,1051.7 L1590.0,1051.7 L1594.1,1051.6 L1598.2,1051.6 L1602.3,1051.5 L1606.4,1051.4 L1610.4,1051.3 L1614.5,1051.3 L1618.6,1051.2 L1622.7,1051.1 L1626.7,1051.0 L1630.8,1050.9 L1634.9,1050.8 L1638.9,1050.7 L1643.0,1050.5 L1647.1,1050.4 L1651.2,1050.3 L1655.2,1050.1 L1659.3,1050.0 L1663.4,1049.8 L1667.4,1049.6 L1671.5,1049.4 L1675.5,1049.2 L1679.6,1049.0 L1683.6,1048.8 L1687.7,1048.6 L1691.8,1048.4 L1695.8,1048.1 L1699.8,1047.9 L1703.9,1047.6 L1707.9,1047.3 L1712.0,1047.0 L1716.0,1046.7 L1720.1,1046.4 L1724.1,1046.1 L1728.1,1045.7 L1732.1,1045.3 L1736.2,1045.0 L1740.2,1044.6 L1744.2,1044.2 L1748.2,1043.7 L1752.2,1043.3 L1756.3,1042.8 L1760.3,1042.4 L1764.3,1041.9 L1768.3,1041.4 L1772.3,1040.8 L1776.3,1040.3 L1780.2,1039.7 L1784.2,1039.1 L1788.2,1038.5 L1792.2,1037.9 L1796.2,1037.3 L1800.1,1036.6 L1804.1,1035.9 L1808.1,1035.2 L1812.0,1034.5 L1816.0,1033.7 L1819.9,1033.0 L1823.9,1032.2 L1827.8,1031.3 L1831.8,1030.5 L1835.7,1029.6 L1839.6,1028.8 L1843.5,1027.8 L1847.4,1026.9 L1851.4,1025.9 L1855.3,1025.0 L1859.2,1023.9 L1863.1,1022.9 L1867.0,1021.8 L1870.8,1020.8 L1874.7,1019.6 L1878.6,1018.5 L1882.5,1017.3 L1886.3,1016.1 L1890.2,1014.9 L1894.0,1013.6 L1897.8,1012.3 L1901.7,1011.0 L1905.5,1009.7 L1909.3,1008.3 L1913.1,1006.9 L1916.8,1005.5 L1920.6,1004.0 L1924.4,1002.5 L1928.1,1000.9 L1931.8,999.4 L1935.5,997.8 L1939.2,996.1 L1942.9,994.4 L1946.5,992.7 L1950.2,991.0 L1953.8,989.2 L1957.4,987.4 L1961.0,985.5 L1964.5,983.7 L1968.0,981.7 L1971.6,979.8 L1975.1,977.8 L1978.5,975.7 L1982.0,973.6 L1985.4,971.5 L1988.8,969.4 L1992.2,967.2 L1995.5,964.9 L1998.9,962.6 L2002.2,960.3 L2005.4,958.0 L2008.7,955.6 L2011.9,953.1 L2015.1,950.6 L2018.2,948.1 L2021.4,945.5 L2024.4,942.9 L2027.5,940.2 L2030.5,937.5 L2033.5,934.7 L2036.5,931.9 L2039.4,929.1 L2042.3,926.2 L2045.2,923.2 L2048.0,920.2 L2050.8,917.2 L2053.6,914.1 L2056.3,910.9 L2059.0,907.8 L2061.6,904.5 L2064.2,901.2 L2066.8,897.9 L2069.3,894.5" fill="none" stroke="#000000" stroke-width="4.7" stroke-linejoin="round"/>
<rect x="401.2" y="1044.8" width="24.5" height="24.5" fill="#000000"/>
<rect x="506.8" y="1044.8" width="24.5" height="24.5" fill="#000000"/>
<rect x="629.2" y="1044.5" width="24.5" height="24.5" fill="#000000"/>
<rect x="751.8" y="1044.2" width="24.5" height="24.5" fill="#000000"/>
<rect x="874.0" y="1043.8" width="24.5" height="24.5" fill="#000000"/>
<rect x="996.2" y="1043.2" width="24.5" height="24.5" fill="#000000"/>
<rect x="1119.0" y="1042.8" width="24.5" height="24.5" fill="#000000"/>
<rect x="1240.8" y="1042.5" width="24.5" height="24.5" fill="#000000"/>
<rect x="1364.2" y="1042.2" width="24.5" height="24.5" fill="#000000"/>
<rect x="1486.5" y="1041.8" width="24.5" height="24.5" fill="#000000"/>
<rect x="1608.8" y="1038.0" width="24.5" height="24.5" fill="#000000"/>
<rect x="1731.8" y="1030.7" width="24.5" height="24.5" fill="#000000"/>
<rect x="1854.7" y="1011.8" width="24.5" height="24.5" fill="#000000"/>
<rect x="1978.0" y="956.4" width="24.5" height="24.5" fill="#000000"/>
<rect x="215.0" y="25.2" width="2039.0" height="3.8" fill="#1e1e1e"/>
<rect x="215.0" y="29.0" width="2039.0" height="4.0" fill="#3a3a3a"/>
<rect x="215.0" y="1145.4" width="2041.5" height="3.5" fill="#888"/>
<rect x="215.0" y="1152.9" width="2041.5" height="3.7" fill="#c8c8c8"/>
<rect x="215.0" y="1148.9" width="2041.5" height="4.0" fill="#050505"/>
<rect x="230.0" y="29.0" width="3.7" height="1145.5" fill="#6e6e6e"/>
<rect x="226.0" y="29.0" width="4.0" height="1145.5" fill="#050505"/>
<rect x="2245.6" y="31.0" width="3.6" height="1132.7" fill="#c8c8c8"/>
<rect x="2253.1" y="26.0" width="3.8" height="1137.7" fill="#a0a0a0"/>
<rect x="2249.2" y="26.0" width="3.9" height="1137.7" fill="#050505"/>
<rect x="204.0" y="1052.7" width="24.0" height="7.2" fill="#2c2c2c"/>
<rect x="204.0" y="865.8" width="24.0" height="7.2" fill="#2c2c2c"/>
<rect x="204.0" y="679.0" width="24.0" height="7.2" fill="#2c2c2c"/>
<rect x="204.0" y="492.2" width="24.0" height="7.2" fill="#2c2c2c"/>
<rect x="204.0" y="305.3" width="24.0" height="7.2" fill="#2c2c2c"/>
<rect x="204.0" y="118.5" width="24.0" height="7.2" fill="#2c2c2c"/>
<rect x="215.0" y="959.3" width="12.0" height="7.0" fill="#303030"/>
<rect x="215.0" y="772.5" width="12.0" height="7.0" fill="#303030"/>
<rect x="215.0" y="585.7" width="12.0" height="7.0" fill="#303030"/>
<rect x="215.0" y="398.8" width="12.0" height="7.0" fill="#303030"/>
<rect x="215.0" y="212.0" width="12.0" height="7.0" fill="#303030"/>
<rect x="592.4" y="1150.0" width="3.9" height="24.5" fill="#8a8a8a"/>
<rect x="596.3" y="1150.0" width="5.2" height="24.5" fill="#0a0a0a"/>
<rect x="959.9" y="1150.0" width="3.9" height="24.5" fill="#8a8a8a"/>
<rect x="963.8" y="1150.0" width="5.2" height="24.5" fill="#0a0a0a"/>
<rect x="1327.4" y="1150.0" width="3.9" height="24.5" fill="#8a8a8a"/>
<rect x="1331.3" y="1150.0" width="5.2" height="24.5" fill="#0a0a0a"/>
<rect x="1694.9" y="1150.0" width="3.9" height="24.5" fill="#8a8a8a"/>
<rect x="1698.8" y="1150.0" width="5.2" height="24.5" fill="#0a0a0a"/>
<rect x="2062.4" y="1150.0" width="3.9" height="24.5" fill="#8a8a8a"/>
<rect x="2066.3" y="1150.0" width="5.2" height="24.5" fill="#0a0a0a"/>
<rect x="409.6" y="1150.0" width="7.2" height="16.0" fill="#333"/>
<rect x="777.1" y="1150.0" width="7.2" height="16.0" fill="#333"/>
<rect x="1144.7" y="1150.0" width="7.2" height="16.0" fill="#333"/>
<rect x="1512.2" y="1150.0" width="7.2" height="16.0" fill="#333"/>
<rect x="1879.7" y="1150.0" width="7.2" height="16.0" fill="#333"/>
<g font-family="'Liberation Sans', Arial, sans-serif" font-size="47" fill="#111" stroke="#111" stroke-width="1.0">
<text x="191" y="1068.8" text-anchor="end">0</text>
<text x="191" y="881.9" text-anchor="end">20</text>
<text x="191" y="695.1" text-anchor="end">40</text>
<text x="191" y="508.3" text-anchor="end">60</text>
<text x="191" y="321.4" text-anchor="end">80</text>
<text x="191" y="134.6" text-anchor="end">100</text>
<text x="229.5" y="1224" text-anchor="middle">100</text>
<text x="597.0" y="1224" text-anchor="middle">200</text>
<text x="964.5" y="1224" text-anchor="middle">300</text>
<text x="1332.0" y="1224" text-anchor="middle">400</text>
<text x="1699.5" y="1224" text-anchor="middle">500</text>
<text x="2067.0" y="1224" text-anchor="middle">600</text>
</g>
<g font-family="'Liberation Sans', Arial, sans-serif" font-weight="bold" fill="#000">
<text x="988" y="1333.7" font-size="64.6"><tspan font-style="italic">Temperature / </tspan><tspan font-size="40" dy="-33.5" dx="-3">o</tspan><tspan dy="33.5">C</tspan></text>
<text transform="translate(73,948) rotate(-90)" font-size="65" font-style="italic">Soot Conversion / %</text>
<text x="537.5" y="538.7" font-size="64">T<tspan font-size="37" dy="26" dx="2.5">50</tspan></text>
<text transform="translate(1183.2,526.2) rotate(-45)" font-size="56" font-weight="normal" fill="#ff0000" stroke="#ff0000" stroke-width="1.8" text-anchor="middle">379</text>
<text transform="translate(1365.2,523.2) rotate(-45)" font-size="56" font-weight="normal" fill="#ff8000" stroke="#ff8000" stroke-width="1.8" text-anchor="middle">393</text>
<text transform="translate(1328.4,672) rotate(-45)" font-size="56" font-weight="normal" fill="#0000ff" stroke="#0000ff" stroke-width="1.8" text-anchor="middle">393</text>
<text transform="translate(1595,584) rotate(-45)" font-size="56" font-weight="normal" fill="#008000" stroke="#008000" stroke-width="1.8" text-anchor="middle">417</text>
</g>
<rect x="1790" y="239.5" width="423" height="431" fill="#fff" stroke="#4a4a4a" stroke-width="4"/>
<rect x="1788" y="239.5" width="4" height="433" fill="#b0b0b0"/>
<line x1="1798.5" x2="1913.5" y1="282.5" y2="282.5" stroke="#ff0000" stroke-width="5.5"/>
<circle cx="1855.7" cy="282.5" r="13" fill="#ff0000"/>
<line x1="1798.5" x2="1913.5" y1="369.5" y2="369.5" stroke="#0000ff" stroke-width="5.5"/>
<polygon points="1855.7,351.6 1840.2,378.4 1871.2,378.4" fill="#0000ff"/>
<line x1="1798.5" x2="1913.5" y1="468" y2="468" stroke="#ff8000" stroke-width="5.5"/>
<polygon points="1855.7,452.5 1859.5,462.7 1870.4,463.2 1861.9,470.0 1864.8,480.5 1855.7,474.5 1846.6,480.5 1849.5,470.0 1841.0,463.2 1851.9,462.7" fill="#ff8000"/>
<line x1="1798.5" x2="1913.5" y1="555.7" y2="555.7" stroke="#008000" stroke-width="5.5"/>
<polygon points="1870.9,555.7 1844.1,540.2 1844.1,571.2" fill="#008000"/>
<line x1="1798.5" x2="1913.5" y1="642.8" y2="642.8" stroke="#000000" stroke-width="5.5"/>
<rect x="1843.5" y="630.5" width="24.5" height="24.5" fill="#000000"/>
<g font-family="'Liberation Sans', Arial, sans-serif" font-size="55" fill="#111" stroke="#111" stroke-width="1.5">
<text x="1924" y="298.5">CeO<tspan font-size="33" dy="23">2</tspan></text>
<text x="1924" y="384.3">Sm<tspan font-size="33" dy="23">0.05</tspan><tspan dy="-23" dx="3">Ce</tspan><tspan font-size="33" dy="23">0.95</tspan></text>
<text x="1924" y="483.2">Sm<tspan font-size="33" dy="23">0.1</tspan><tspan dy="-23" dx="3">Ce</tspan><tspan font-size="33" dy="23">0.9</tspan></text>
<text x="1924" y="570.8">Sm<tspan font-size="33" dy="23">0.2</tspan><tspan dy="-23" dx="3">Ce</tspan><tspan font-size="33" dy="23">0.8</tspan></text>
<text x="1924" y="659" letter-spacing="0.5">Printex-U</text>
</g>
</g>
</svg>
</body></html>
